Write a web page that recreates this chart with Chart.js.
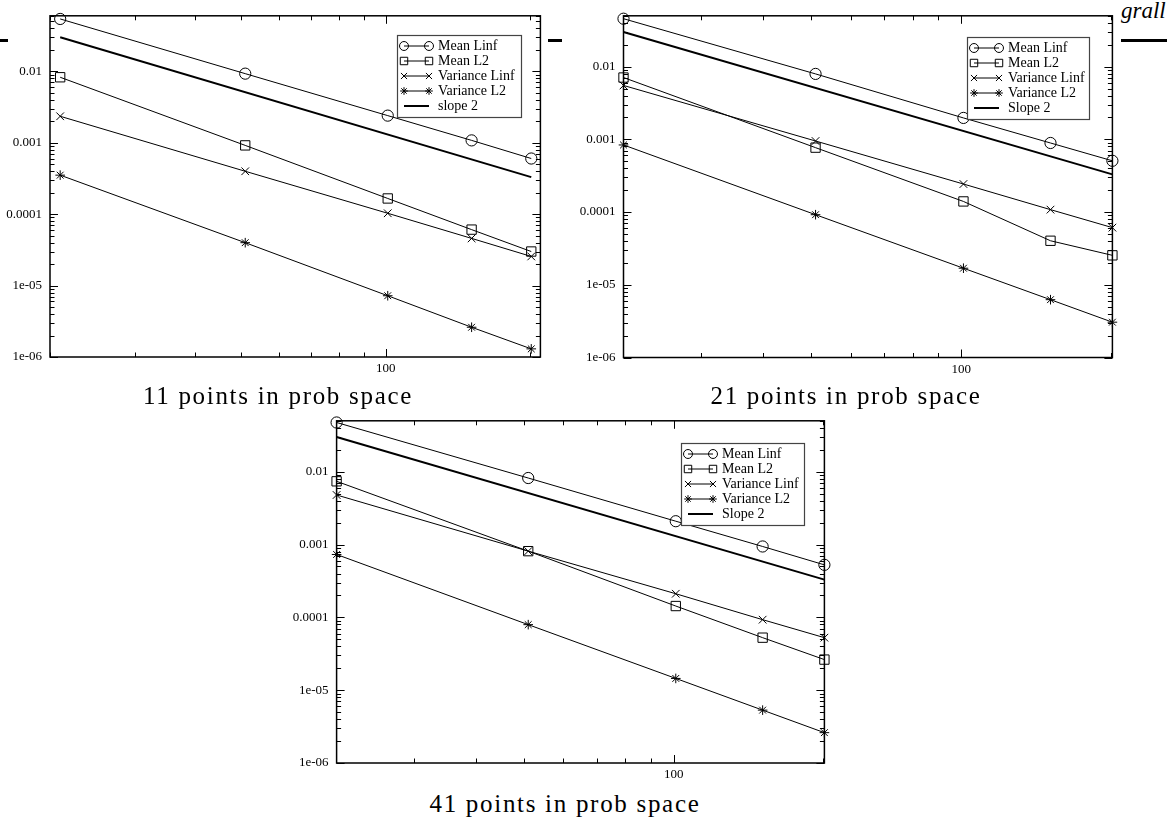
<!DOCTYPE html>
<html>
<head>
<meta charset="utf-8">
<script src="https://cdn.jsdelivr.net/npm/chart.js@4.4.1/dist/chart.umd.min.js"></script>
<style>
  html, body { margin: 0; padding: 0; background: #fff; }
  body { width: 1174px; height: 822px; position: relative; overflow: hidden; }
  .rule { position: absolute; top: 39px; height: 3px; background: #000; }
  .hdr { position: absolute; left: 1121px; top: -2px; font: italic 23px "Liberation Serif", serif; line-height: 26px; color: #000; }
  canvas { position: absolute; }
  .cap { position: absolute; font: 25px "Liberation Serif", serif; line-height: 25px; letter-spacing: 1.7px;
         white-space: nowrap; color: #000; transform: translateX(-50%); }
</style>
</head>
<body>
<div class="rule" style="left:0;width:8px;"></div>
<div class="rule" style="left:548px;width:14px;"></div>
<div class="rule" style="left:1121px;width:46px;"></div>
<div class="hdr">grall</div>

<canvas id="c11" width="548" height="376" style="left:0px;top:0px;"></canvas>
<canvas id="c21" width="558" height="376" style="left:562px;top:0px;"></canvas>
<canvas id="c41" width="562" height="376" style="left:270px;top:405px;"></canvas>

<div class="cap" style="left:278px;top:383px;">11 points in prob space</div>
<div class="cap" style="left:846px;top:383px;">21 points in prob space</div>
<div class="cap" style="left:565px;top:791px;">41 points in prob space</div>

<script>
// Grid sizes (number of points in physical space) used for every run
const nPoints = [21, 51, 101, 151, 201];

// Reference second-order line
const slopeN = [21, 201];
const slope2 = [0.03, 0.00033];

// Errors with 11 points in probability space
const meanLinf11 = [0.0542, 0.00929, 0.0024, 0.00108, 0.000602];
const meanL2_11  = [0.00827, 0.000919, 0.000166, 6.08e-5, 3.0e-5];
const varLinf11  = [0.00235, 0.000399, 0.000103, 4.58e-5, 2.56e-5];
const varL2_11   = [0.000352, 3.99e-5, 7.21e-6, 2.61e-6, 1.30e-6];

// Errors with 21 points in probability space
const meanLinf21 = [0.0456, 0.00794, 0.00197, 0.000891, 0.000507];
const meanL2_21  = [0.00708, 0.000769, 0.00014, 4.03e-5, 2.54e-5];
const varLinf21  = [0.00551, 0.000949, 0.000243, 0.000108, 6.11e-5];
const varL2_21   = [0.000837, 9.2e-5, 1.69e-5, 6.24e-6, 3.06e-6];

// Errors with 41 points in probability space
const meanLinf41 = [0.0474, 0.00819, 0.00209, 0.00094, 0.000526];
const meanL2_41  = [0.00738, 0.000811, 0.000143, 5.26e-5, 2.63e-5];
const varLinf41  = [0.00479, 0.000811, 0.000211, 9.29e-5, 5.26e-5];
const varL2_41   = [0.00073, 7.94e-5, 1.45e-5, 5.32e-6, 2.61e-6];

const seriesNames = ['Mean Linf', 'Mean L2', 'Variance Linf', 'Variance L2'];

// Labelled ticks
const yTickValues = [1e-6, 1e-5, 1e-4, 1e-3, 1e-2];
const yTickLabels = ['1e-06', '1e-05', '0.0001', '0.001', '0.01'];
const xTickValues = [100];
const xTickLabels = ['100'];

const FONT = '"Liberation Serif", "Times New Roman", serif';

const markerStyles = [
  { pointStyle: 'circle',   radius: 5.6 },
  { pointStyle: 'rect',     radius: 6.6 },
  { pointStyle: 'crossRot', radius: 5.4 },
  { pointStyle: 'star',     radius: 4.8 }
];

// Decade ticks 1..9 x 10^k inside [min, max]; multiples of 1 are major
function decadeTicks(min, max) {
  const out = [];
  const e0 = Math.floor(Math.log10(min)) - 1;
  const e1 = Math.ceil(Math.log10(max)) + 1;
  for (let e = e0; e <= e1; e++) {
    for (let m = 1; m < 10; m++) {
      const v = m * Math.pow(10, e);
      if (v >= min * 0.99999 && v <= max * 1.00001) out.push({ value: v, major: m === 1 });
    }
  }
  return out;
}

function labelFor(values, labels) {
  return (v) => {
    const i = values.findIndex(t => Math.abs(Math.log10(t) - Math.log10(v)) < 1e-6);
    return i >= 0 ? labels[i] : '';
  };
}

// White plot background, drawn before the data
const plotBackground = {
  id: 'plotBackground',
  beforeDraw(chart) {
    const { ctx, chartArea: a } = chart;
    ctx.save();
    ctx.fillStyle = '#fff';
    ctx.fillRect(a.left - 6, 0, a.right - a.left + 12, chart.height);
    ctx.restore();
  }
};

// Frame with inward tick marks on all four sides
const framePlugin = {
  id: 'frame',
  afterDatasetsDraw(chart) {
    const { ctx, chartArea: a } = chart;
    const xs = chart.scales.x, ys = chart.scales.y;
    ctx.save();
    ctx.strokeStyle = '#000';
    ctx.lineWidth = 1;
    ctx.beginPath();
    ys.ticks.forEach(t => {
      const p = Math.round(ys.getPixelForValue(t.value)) + 0.5;
      const len = t.major ? 8 : 4.5;
      ctx.moveTo(a.left, p);  ctx.lineTo(a.left + len, p);
      ctx.moveTo(a.right, p); ctx.lineTo(a.right - len, p);
    });
    xs.ticks.forEach(t => {
      const p = Math.round(xs.getPixelForValue(t.value)) + 0.5;
      const len = t.major ? 8 : 4.5;
      ctx.moveTo(p, a.bottom); ctx.lineTo(p, a.bottom - len);
      ctx.moveTo(p, a.top);    ctx.lineTo(p, a.top + len);
    });
    ctx.stroke();
    ctx.lineWidth = 1.5;
    ctx.strokeRect(a.left, a.top, a.right - a.left, a.bottom - a.top);
    ctx.restore();
  }
};

// Boxed legend placed inside the plot area
const boxLegendPlugin = {
  id: 'boxLegend',
  afterDraw(chart, args, opts) {
    const { ctx } = chart;
    const { x, y, w, h } = opts;
    ctx.save();
    ctx.fillStyle = '#fff';
    ctx.fillRect(x, y, w, h);
    ctx.strokeStyle = '#444';
    ctx.lineWidth = 1.2;
    ctx.strokeRect(x + 0.5, y + 0.5, w, h);
    ctx.font = '14px ' + FONT;
    ctx.textBaseline = 'middle';
    ctx.textAlign = 'left';
    chart.data.datasets.forEach((ds, i) => {
      const ry = y + 11 + i * 15;
      const x0 = x + 7, x1 = x + 32;
      ctx.strokeStyle = '#000';
      ctx.lineWidth = ds.borderWidth;
      ctx.beginPath();
      ctx.moveTo(x0, ry); ctx.lineTo(x1, ry);
      ctx.stroke();
      if (ds.pointRadius > 0) {
        ctx.lineWidth = 1;
        ctx.fillStyle = 'rgba(0,0,0,0)';
        [x0, x1].forEach(px => Chart.helpers.drawPoint(ctx,
          { pointStyle: ds.pointStyle, radius: ds.pointRadius * 0.8, rotation: 0, borderWidth: 1 }, px, ry));
      }
      ctx.fillStyle = '#000';
      ctx.fillText(ds.label, x + 41, ry + 0.5);
    });
    ctx.restore();
  }
};

function makeChart(id, cfg) {
  const toXY = (xs, vals) => xs.map((n, i) => ({ x: n, y: vals[i] }));
  const datasets = cfg.series.map((vals, i) => ({
    label: seriesNames[i],
    data: toXY(nPoints, vals),
    showLine: true,
    borderColor: '#000',
    borderWidth: 1,
    backgroundColor: 'rgba(0,0,0,0)',
    pointStyle: markerStyles[i].pointStyle,
    pointRadius: markerStyles[i].radius,
    pointHoverRadius: markerStyles[i].radius,
    pointBorderColor: '#000',
    pointBackgroundColor: 'rgba(0,0,0,0)',
    pointBorderWidth: 1,
    clip: false
  }));
  datasets.push({
    label: cfg.slopeLabel,
    data: toXY(slopeN, slope2),
    showLine: true,
    borderColor: '#000',
    borderWidth: 2,
    pointRadius: 0,
    pointHoverRadius: 0,
    clip: false
  });

  return new Chart(document.getElementById(id), {
    type: 'scatter',
    data: { datasets },
    plugins: [plotBackground, framePlugin, boxLegendPlugin],
    options: {
      responsive: false,
      animation: false,
      devicePixelRatio: 1,
      events: [],
      layout: { padding: { left: 0, right: cfg.padRight, top: cfg.padTop, bottom: 0 } },
      plugins: {
        legend: { display: false },
        tooltip: { enabled: false },
        boxLegend: cfg.legend
      },
      scales: {
        x: {
          type: 'logarithmic',
          min: cfg.xMin, max: cfg.xMax,
          afterBuildTicks: s => { s.ticks = decadeTicks(s.min, s.max); },
          afterFit: s => { s.height = cfg.xAxisH; },
          grid: { display: false, drawTicks: false },
          border: { display: false },
          ticks: {
            autoSkip: false, maxRotation: 0, padding: 4, color: '#000',
            font: { family: FONT, size: 13 },
            callback: labelFor(xTickValues, xTickLabels)
          }
        },
        y: {
          type: 'logarithmic',
          min: cfg.yMin, max: cfg.yMax,
          afterBuildTicks: s => { s.ticks = decadeTicks(s.min, s.max); },
          afterFit: s => { s.width = cfg.yAxisW; },
          grid: { display: false, drawTicks: false },
          border: { display: false },
          ticks: {
            autoSkip: false, padding: 8, color: '#000',
            font: { family: FONT, size: 13 },
            callback: labelFor(yTickValues, yTickLabels)
          }
        }
      }
    }
  });
}

makeChart('c11', {
  series: [meanLinf11, meanL2_11, varLinf11, varL2_11],
  slopeLabel: 'slope 2',
  xMin: 20, xMax: 210, yMin: 1e-6, yMax: 0.06,
  yAxisW: 50, xAxisH: 19, padTop: 10, padRight: 2,
  legend: { x: 397, y: 35, w: 124, h: 82 }
});

makeChart('c21', {
  series: [meanLinf21, meanL2_21, varLinf21, varL2_21],
  slopeLabel: 'Slope 2',
  xMin: 21, xMax: 201, yMin: 1e-6, yMax: 0.05,
  yAxisW: 61.5, xAxisH: 18.5, padTop: 13.3, padRight: 5,
  legend: { x: 405, y: 37, w: 122, h: 82 }
});

makeChart('c41', {
  series: [meanLinf41, meanL2_41, varLinf41, varL2_41],
  slopeLabel: 'Slope 2',
  xMin: 21, xMax: 201, yMin: 1e-6, yMax: 0.05,
  yAxisW: 66.6, xAxisH: 18, padTop: 14.3, padRight: 3,
  legend: { x: 411, y: 38, w: 123, h: 82 }
});
</script>
</body>
</html>
